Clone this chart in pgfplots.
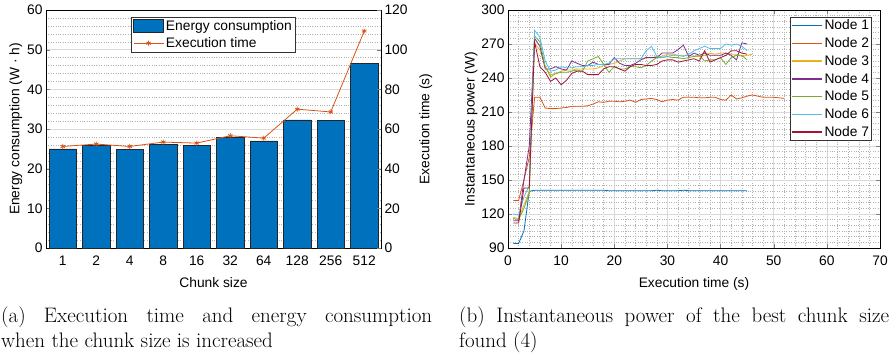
\documentclass[border=0pt]{standalone}
\usepackage{pgfplots}
\pgfplotsset{compat=1.18}
\usepackage{fontspec}
\newfontfamily\arial{Liberation Sans}
\newcommand\cf{\arial\fontsize{13.8}{16}\selectfont}
\definecolor{mlblue}{RGB}{0,114,189}
\definecolor{mlorange}{RGB}{217,83,25}
\definecolor{mlyellow}{RGB}{237,177,32}
\definecolor{mlpurple}{RGB}{126,47,142}
\definecolor{mlgreen}{RGB}{119,172,48}
\definecolor{mlcyan}{RGB}{77,190,238}
\definecolor{mlred}{RGB}{162,20,47}
\pgfplotsset{
  every axis/.append style={
    scale only axis,
    tick align=inside,
    ticklabel style={font=\cf},
    xticklabel style={yshift=-4pt},
    label style={font=\cf},
    legend style={font=\cf},
    /pgf/number format/assume math mode=true,
    major grid style={draw=black!15, line width=0.5pt},
    minor grid style={draw=black!30, dotted, line width=0.4pt},
    axis line style={line width=0.6pt},
    major tick length=4pt,
    minor tick length=0pt,
    legend image code/.code={\draw[mark repeat=2,mark phase=2,#1] plot coordinates {(0pt,0pt) (15pt,0pt) (30pt,0pt)};},
  }
}
\begin{document}
\begin{tikzpicture}
\useasboundingbox (0pt,0pt) rectangle (891pt,354pt);
% ---------------- left chart ----------------
\begin{axis}[
  at={(46pt,106pt)}, anchor=south west,
  width=335pt, height=238pt,
  xmin=0.5, xmax=10.5, ymin=0, ymax=60,
  xtick={1,...,10},
  xticklabels={1,2,4,8,16,32,64,128,256,512},
  ytick={0,10,...,60},
  xtick pos=bottom, ytick pos=left,
  ymajorgrids, yminorgrids, minor y tick num=4,
  xlabel={Chunk size},
  ylabel={Energy consumption (W · h)},
  ylabel style={yshift=-2pt},
  xlabel style={yshift=-5pt},
]
\addplot[ybar, bar width=0.82, fill=mlblue, draw=black!85, line width=0.6pt] coordinates {
(1,25.0) (2,25.8) (3,24.9) (4,26.2) (5,25.8) (6,27.9) (7,27.0) (8,32.3) (9,32.1) (10,46.6)};
\end{axis}
\begin{axis}[
  at={(46pt,106pt)}, anchor=south west,
  width=335pt, height=238pt,
  xmin=0.5, xmax=10.5, ymin=0, ymax=120,
  axis x line=none, axis y line*=right,
  ytick={0,20,...,120},
  ylabel={Execution time (s)},
  ylabel style={yshift=-5pt},
  legend style={at={(0.5,0.972)}, anchor=north, draw=black!80, fill=white, line width=0.6pt,
    inner xsep=1.5pt, inner ysep=1.5pt, row sep=1.5pt},
  legend cell align=left,
]
\addlegendimage{legend image code/.code={\draw[fill=mlblue,draw=black!85,line width=0.6pt] (0pt,-6.5pt) rectangle (30pt,6.5pt);}}
\addlegendentry{Energy consumption}
\addplot[mlorange, line width=0.8pt, mark=asterisk, mark size=2.5pt, mark options={line width=0.8pt}] coordinates {
(1,51.2) (2,52.4) (3,51.2) (4,53.4) (5,52.9) (6,56.6) (7,55.4) (8,70.0) (9,68.6) (10,109.4)};
\addlegendentry{Execution time}
\end{axis}
% ---------------- right chart ----------------
\begin{axis}[
  at={(508pt,106pt)}, anchor=south west,
  width=372pt, height=238pt,
  xmin=0, xmax=70, ymin=90, ymax=300,
  xtick={0,10,...,70}, ytick={90,120,...,300},
  minor x tick num=4, minor y tick num=5,
  grid=both,
  xlabel={Execution time (s)},
  ylabel={Instantaneous power (W)},
  xlabel style={yshift=-5pt},
  ylabel style={yshift=-3pt},
  legend style={at={(0.978,0.972)}, anchor=north east, draw=black!80, fill=white, line width=0.6pt,
    inner xsep=0.5pt, inner ysep=1pt, row sep=2.2pt},
  legend cell align=left,
]
\addlegendimage{draw=mlblue, line width=1.4pt}
\addlegendentry{Node 1}
\addlegendimage{draw=mlorange, line width=1.4pt}
\addlegendentry{Node 2}
\addlegendimage{draw=mlyellow, line width=1.4pt}
\addlegendentry{Node 3}
\addlegendimage{draw=mlpurple, line width=1.4pt}
\addlegendentry{Node 4}
\addlegendimage{draw=mlgreen, line width=1.4pt}
\addlegendentry{Node 5}
\addlegendimage{draw=mlcyan, line width=1.4pt}
\addlegendentry{Node 6}
\addlegendimage{draw=mlred, line width=1.4pt}
\addlegendentry{Node 7}
\addplot[mlblue, line width=0.8pt, forget plot] coordinates {
(1,94) (2,94) (3,105) (4,140) (5,141) (6,141) (7,141) (8,141) (9,141) (10,141) (11,141) (12,141) (13,141) (14,141) (15,141) (16,141) (17,141) (18,141) (19,140.5) (20,140.5) (21,140.5) (22,140.5) (23,140.5) (24,140.5) (25,140.5) (26,140.5) (27,140.5) (28,141) (29,140.5) (30,140.5) (31,140.5) (32,140.5) (33,141) (34,140.5) (35,140.5) (36,140.5) (37,140.5) (38,140.5) (39,140.5) (40,140.5) (41,140.5) (42,140.5) (43,140.5) (44,140.5) (45,140.5)};
\addplot[mlorange, line width=0.8pt, forget plot] coordinates {
(1,132) (2,132) (3,150) (4,170) (5,223) (6,223) (7,213.5) (8,213) (9,213) (10,213.5) (11,214) (12,215) (13,215) (14,215) (15,215.5) (16,217) (17,219) (18,218.5) (19,219.5) (20,219.5) (21,219) (22,219.5) (23,220.5) (24,218.5) (25,221) (26,221.5) (27,222) (28,221) (29,219) (30,220.5) (31,221) (32,220.5) (33,223) (34,223) (35,223) (36,222.5) (37,222.5) (38,223) (39,223) (40,221) (41,220.5) (42,225) (43,221.5) (44,222.5) (45,224) (46,225) (47,224) (48,223) (49,223) (50,223) (51,222.5) (52,222)};
\addplot[mlyellow, line width=0.8pt, forget plot] coordinates {
(1,117) (2,116) (3,128) (4,140) (5,270) (6,265) (7,250) (8,243) (9,244) (10,246) (11,247) (12,247) (13,248) (14,248) (15,248) (16,248) (17,249) (18,251) (19,252) (20,253) (21,255) (22,257) (23,257) (24,257) (25,257) (26,258) (27,258) (28,259) (29,259) (30,261) (31,261) (32,260) (33,260) (34,260) (35,259) (36,259) (37,260) (38,262) (39,261) (40,262) (41,262) (42,261) (43,261) (44,259) (45,260) (46,261)};
\addplot[mlpurple, line width=0.8pt, forget plot] coordinates {
(1,114) (2,114) (3,150) (4,180) (5,275) (6,268) (7,248) (8,248) (9,250) (10,248) (11,247) (12,255) (13,253) (14,251) (15,251) (16,254) (17,252) (18,252) (19,252) (20,258) (21,253) (22,251) (23,251) (24,253) (25,256) (26,258) (27,258) (28,258) (29,262) (30,262) (31,262) (32,265) (33,269) (34,259) (35,262) (36,260) (37,262) (38,260) (39,260) (40,260) (41,262) (42,260) (43,256) (44,271) (45,270)};
\addplot[mlgreen, line width=0.8pt, forget plot] coordinates {
(1,116) (2,115) (3,125) (4,138) (5,277) (6,272) (7,250) (8,241) (9,244) (10,245) (11,245) (12,246) (13,247) (14,246) (15,255) (16,257) (17,259) (18,252) (19,245) (20,250) (21,248) (22,248) (23,250) (24,250) (25,249) (26,251) (27,255) (28,258) (29,258) (30,259) (31,258) (32,258) (33,257) (34,258) (35,259) (36,260) (37,255) (38,256) (39,256) (40,258) (41,252) (42,258) (43,260) (44,260) (45,256)};
\addplot[mlcyan, line width=0.8pt, forget plot] coordinates {
(1,120) (2,119) (3,135) (4,145) (5,282) (6,276) (7,255) (8,246) (9,247) (10,250) (11,249) (12,249) (13,250) (14,250) (15,251) (16,251) (17,252) (18,252) (19,253) (20,257) (21,257) (22,257) (23,257) (24,257) (25,257) (26,264) (27,268) (28,259) (29,258) (30,259) (31,260) (32,260) (33,259) (34,261) (35,264) (36,266) (37,268) (38,266) (39,266) (40,266) (41,270) (42,269) (43,270) (44,268) (45,264)};
\addplot[mlred, line width=0.8pt, forget plot] coordinates {
(1,112) (2,112) (3,143) (4,143) (5,272) (6,250) (7,245) (8,237) (9,240) (10,234) (11,238) (12,244) (13,246) (14,246) (15,243) (16,243) (17,243) (18,248) (19,250) (20,250) (21,248) (22,246) (23,250) (24,252) (25,252) (26,251) (27,251) (28,252) (29,255) (30,256) (31,256) (32,254) (33,255) (34,256) (35,257) (36,255) (37,264) (38,254) (39,256) (40,258) (41,260) (42,264) (43,264) (44,262) (45,261)};
\end{axis}
% ---------------- captions ----------------
\node[anchor=base west, inner sep=0pt] at (1pt,32pt) {\parbox[t]{431pt}{\fontsize{21}{25.5}\selectfont (a) Execution time and energy consumption\linebreak when the chunk size is increased}};
\node[anchor=base west, inner sep=0pt] at (459pt,32pt) {\parbox[t]{430pt}{\fontsize{21}{25.5}\selectfont (b) Instantaneous power of the best chunk size\linebreak found (4)}};
\end{tikzpicture}
\end{document}
